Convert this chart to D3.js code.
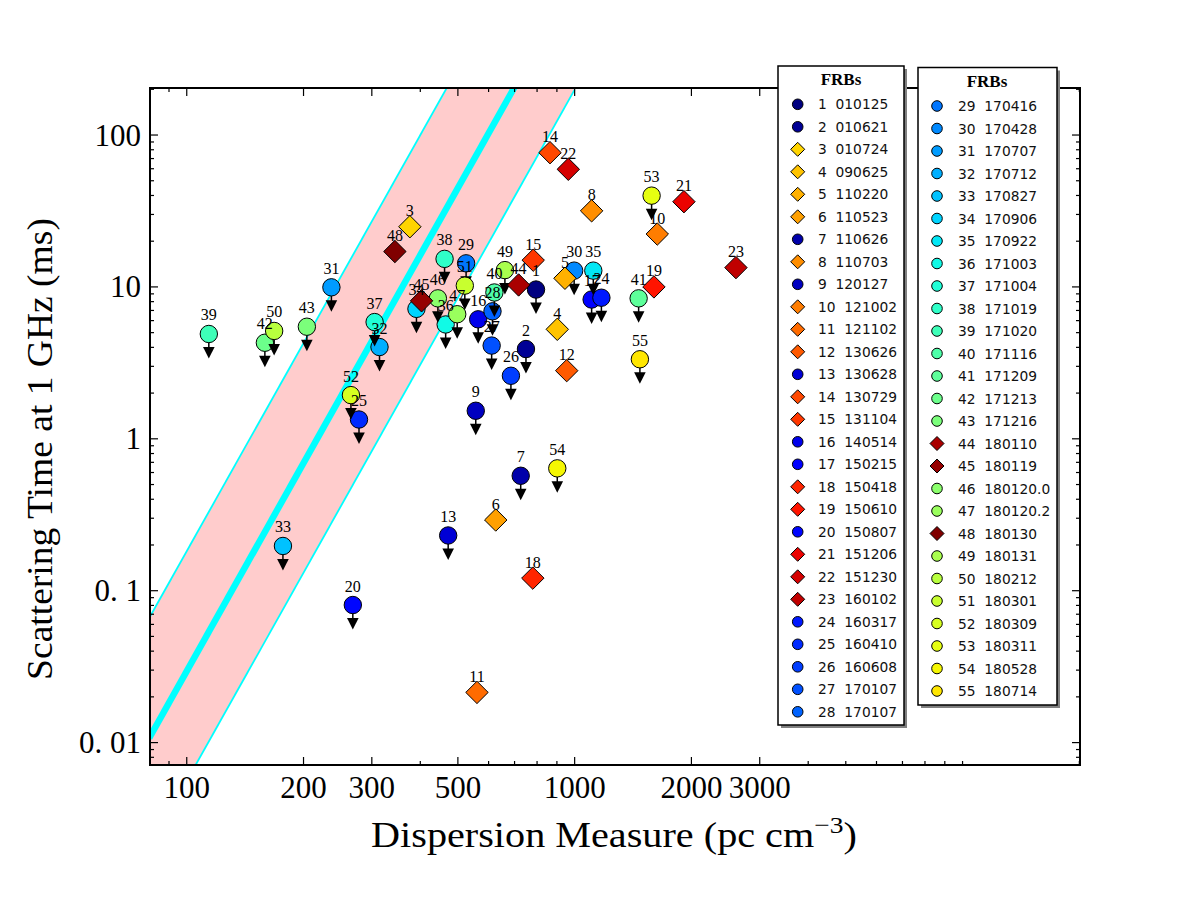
<!DOCTYPE html>
<html><head><meta charset="utf-8">
<script src="https://cdn.jsdelivr.net/npm/d3@7"></script>
<style>body{margin:0;background:#fff}</style>
</head><body><svg id="c" width="1200" height="900"></svg>
<script>
// ---------------- data ----------------
const frbIds = d3.range(1, 56);
const frbDates = ["010125","010621","010724","090625","110220","110523","110626","110703","120127","121002",
  "121102","130626","130628","130729","131104","140514","150215","150418","150610","150807",
  "151206","151230","160102","160317","160410","160608","170107","170107","170416","170428",
  "170707","170712","170827","170906","170922","171003","171004","171019","171020","171116",
  "171209","171213","171216","180110","180119","180120.0","180120.2","180130","180131","180212",
  "180301","180309","180311","180528","180714"];
const dmValues = [795,749,376,902,944,626,726,1106,556,1633,
  560,954,472,864,782,564,1106,780,1601,268,
  1913,963,2605,1172,278,685,611,614,525,997,
  236,314,177,391,1117,465,305,462,114,621,
  1462,159,204,717,403,444,498,344,661,168,
  521,265,1579,902,1473];
const tauValues = [9.61,3.90,24.9,5.26,11.4,0.292,0.571,31.7,1.53,22.3,
  0.0214,2.81,0.231,76.5,15.0,6.12,8.26,0.121,10.0,0.0805,
  36.4,59.5,13.4,8.49,1.34,2.60,4.11,6.91,14.3,12.8,
  9.94,4.02,0.197,7.17,12.8,5.66,5.87,15.3,4.90,9.19,
  8.41,4.29,5.47,10.3,8.10,8.41,6.61,17.1,12.9,5.13,
  10.2,1.94,39.9,0.639,3.34];
// ids whose scattering time is a measurement (diamonds); all others are upper limits (circles)
const measuredIds = [3,4,5,6,8,10,11,12,14,15,18,19,21,22,23,44,45,48];
// Galactic-style scattering band (straight in log-log), endpoints
const bandDM = [80, 1000];
const bandUpperTau = [0.066, 6465];
const bandCenterTau = [0.0107, 1051];
const bandLowerTau = [0.00203, 199];
const xTickValues = [100, 200, 300, 500, 1000, 2000, 3000];
const xTickLabels = ["100", "200", "300", "500", "1000", "2000", "3000"];
const yTickValues = [0.01, 0.1, 1, 10, 100];
const yTickLabels = ["0. 01", "0. 1", "1", "10", "100"];
const xAxisTitle = "Dispersion Measure (pc cm";
const yAxisTitle = "Scattering Time at 1 GHz (ms)";
const legendTitle = "FRBs";

// ---------------- setup ----------------
const svg = d3.select("#c");
const L = 150, R = 1080, T = 88, B = 765;
const x = d3.scaleLog().domain([80.4, 20080]).range([L, R]);
const y = d3.scaleLog().domain([0.00712, 204]).range([B, T]);

// matplotlib "jet"
const jr = d3.scaleLinear().domain([0, .35, .66, .89, 1]).range([0, 0, 1, 1, .5]).clamp(true);
const jg = d3.scaleLinear().domain([0, .125, .375, .64, .91, 1]).range([0, 0, 1, 1, 0, 0]).clamp(true);
const jb = d3.scaleLinear().domain([0, .11, .34, .65, 1]).range([.5, 1, 1, 0, 0]).clamp(true);
const jet = t => d3.rgb(jr(t) * 255, jg(t) * 255, jb(t) * 255).formatHex();

const points = frbIds.map((id, i) => ({
  id, date: frbDates[i], dm: dmValues[i], tau: tauValues[i],
  measured: measuredIds.includes(id)
}));
const ordered = points.filter(p => !p.measured).concat(points.filter(p => p.measured));
ordered.forEach((p, k) => { p.color = jet(k / (ordered.length - 1)); });

svg.append("rect").attr("width", 1200).attr("height", 900).attr("fill", "#fff");
svg.append("defs").append("clipPath").attr("id", "clip")
  .append("rect").attr("x", L).attr("y", T).attr("width", R - L).attr("height", B - T);

// ---------------- band ----------------
const gBand = svg.append("g").attr("clip-path", "url(#clip)");
const poly = bandDM.map((d, i) => [x(d), y(bandUpperTau[i])])
  .concat(bandDM.map((d, i) => [x(d), y(bandLowerTau[i])]).reverse());
gBand.append("path").attr("d", "M" + poly.join("L") + "Z").attr("fill", "#ffcccc");
const line = d3.line().x(d => x(d[0])).y(d => y(d[1]));
[[bandUpperTau, 1.8], [bandLowerTau, 1.8], [bandCenterTau, 6.5]].forEach(([arr, w]) => {
  gBand.append("path").attr("d", line(bandDM.map((d, i) => [d, arr[i]])))
    .attr("fill", "none").attr("stroke", "#00ffff").attr("stroke-width", w);
});

// ---------------- markers ----------------
const diamond = s => `M0,${-s}L${s},0L0,${s}L${-s},0Z`;
const gPts = svg.append("g");
points.filter(p => !p.measured).forEach(p => {
  const g = gPts.append("g").attr("transform", `translate(${x(p.dm)},${y(p.tau)})`);
  g.append("line").attr("x1", 0).attr("x2", 0).attr("y1", 0).attr("y2", 14)
    .attr("stroke", "#000").attr("stroke-width", 1.5);
  g.append("path").attr("d", "M-5.8,13L5.8,13L0,24.5Z").attr("fill", "#000");
  g.append("circle").attr("r", 8.7).attr("fill", p.color).attr("stroke", "#000").attr("stroke-width", 1);
});
points.filter(p => p.measured).forEach(p => {
  gPts.append("path").attr("transform", `translate(${x(p.dm)},${y(p.tau)})`)
    .attr("d", diamond(11.2)).attr("fill", p.color).attr("stroke", "#000").attr("stroke-width", 1);
});
const gLab = svg.append("g").attr("font-family", "'Liberation Serif', serif").attr("font-size", 16)
  .attr("text-anchor", "middle");
points.forEach(p => {
  gLab.append("text").attr("x", x(p.dm)).attr("y", y(p.tau) - (p.measured ? 10.5 : 13.5)).text(p.id);
});

// ---------------- axes frame & ticks ----------------
const gAx = svg.append("g").attr("stroke", "#000");
const xMinor = x.ticks().filter(v => !xTickValues.some(m => Math.abs(m - v) < 1e-9));
const yMinor = y.ticks().filter(v => !yTickValues.some(m => Math.abs(m - v) / m < 1e-6));
const tick = (vals, len, sc, horiz) => vals.forEach(v => {
  const p = sc(v);
  if (horiz) {
    gAx.append("line").attr("x1", p).attr("x2", p).attr("y1", B).attr("y2", B - len).attr("stroke-width", 1.2);
    gAx.append("line").attr("x1", p).attr("x2", p).attr("y1", T).attr("y2", T + len).attr("stroke-width", 1.2);
  } else {
    gAx.append("line").attr("y1", p).attr("y2", p).attr("x1", L).attr("x2", L + len).attr("stroke-width", 1.2);
    gAx.append("line").attr("y1", p).attr("y2", p).attr("x1", R).attr("x2", R - len).attr("stroke-width", 1.2);
  }
});
tick(xTickValues, 8, x, true); tick(xMinor, 4, x, true);
tick(yTickValues, 8, y, false); tick(yMinor, 4, y, false);
gAx.append("rect").attr("x", L).attr("y", T).attr("width", R - L).attr("height", B - T)
  .attr("fill", "none").attr("stroke-width", 2);

const gT = svg.append("g").attr("font-family", "'Liberation Serif', serif").attr("font-size", 31).attr("fill", "#000");
xTickValues.forEach((v, i) => gT.append("text").attr("x", x(v)).attr("y", 798)
  .attr("text-anchor", "middle").text(xTickLabels[i]));
yTickValues.forEach((v, i) => gT.append("text").attr("x", 141).attr("y", y(v)).attr("dy", "0.34em")
  .attr("text-anchor", "end").style("white-space", "pre").text(yTickLabels[i]));

// axis titles
const xt = svg.append("text").attr("font-family", "'Liberation Serif', serif").attr("font-size", 35)
  .attr("x", 614).attr("y", 847).attr("text-anchor", "middle");
xt.append("tspan").text(xAxisTitle);
xt.append("tspan").attr("font-size", 24).attr("dy", -14).text("\u22123");
xt.append("tspan").attr("dy", 14).text(")");
const fitW = (sel, w, cx, cy, rot) => {
  const bw = sel.node().getBBox().width;
  const s = w / bw;
  sel.attr("transform", `translate(${cx},${cy}) rotate(${rot}) scale(${s},1) translate(${-cx},${-cy})`);
};
fitW(xt, 486, 614, 847, 0);
const yt = svg.append("text").attr("font-family", "'Liberation Serif', serif").attr("font-size", 35)
  .attr("x", 449).attr("y", 52).attr("text-anchor", "middle").text(yAxisTitle);
// place rotated: centre at (52 baseline, 449)
yt.attr("x", 0).attr("y", 0);
{
  const bw = yt.node().getBBox().width;
  const s = 462 / bw;
  yt.attr("transform", `translate(52,449) rotate(-90) scale(${s},1)`);
}

// ---------------- legends ----------------
const legends = [
  { ids: frbIds.slice(0, 28), bx: 778, by: 66, bw: 126, bh: 659, tx: 841, ty: 85, r0: 104.3, mx: 797.7, lx: 818 },
  { ids: frbIds.slice(28), bx: 918, by: 67.5, bw: 139, bh: 637.5, tx: 987, ty: 86.5, r0: 106, mx: 937, lx: 958 }
];
legends.forEach(lg => {
  const g = svg.append("g");
  g.append("rect").attr("x", lg.bx + 3).attr("y", lg.by + 3).attr("width", lg.bw).attr("height", lg.bh).attr("fill", "#808080");
  g.append("rect").attr("x", lg.bx).attr("y", lg.by).attr("width", lg.bw).attr("height", lg.bh)
    .attr("fill", "#fff").attr("stroke", "#000").attr("stroke-width", 1.5);
  g.append("text").attr("x", lg.tx).attr("y", lg.ty).attr("text-anchor", "middle")
    .attr("font-family", "'Liberation Serif', serif").attr("font-weight", "bold").attr("font-size", 17).text(legendTitle);
  lg.ids.forEach((id, k) => {
    const p = points[id - 1];
    const cy = lg.r0 + k * 22.5;
    if (p.measured) g.append("path").attr("transform", `translate(${lg.mx},${cy})`).attr("d", diamond(7))
      .attr("fill", p.color).attr("stroke", "#000").attr("stroke-width", 1);
    else g.append("circle").attr("cx", lg.mx).attr("cy", cy).attr("r", 5.3)
      .attr("fill", p.color).attr("stroke", "#000").attr("stroke-width", 1);
    g.append("text").attr("x", lg.lx).attr("y", cy + 5).attr("font-family", "'DejaVu Sans', sans-serif")
      .attr("font-size", 13.8).style("white-space", "pre").attr("fill", "#111").text(`${id}  ${p.date}`);
  });
});
</script></body></html>
